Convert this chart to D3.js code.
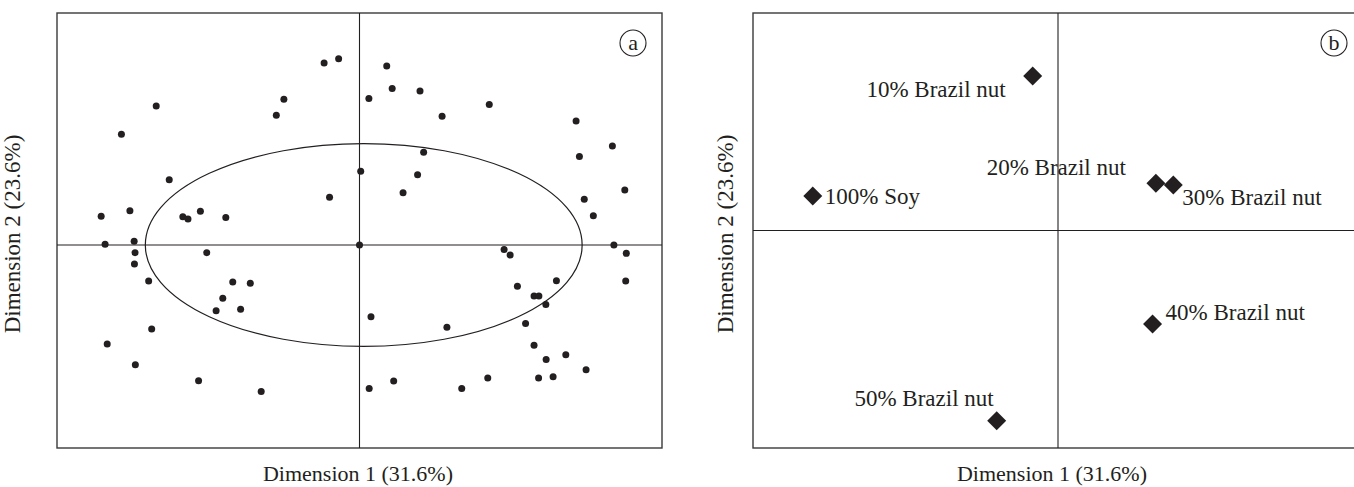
<!DOCTYPE html>
<html>
<head>
<meta charset="utf-8">
<script src="https://cdn.jsdelivr.net/npm/d3@7"></script>
<style>
  body { margin: 0; background: #fff; }
  text { font-family: 'Liberation Serif', 'Times New Roman', serif; fill: #231f20; }
</style>
</head>
<body>
<div id="chart"></div>
<script>
// panel a: individual scores
const scoresX = [
  -0.117, -0.069, -0.672, -0.787, -0.250, -0.275, -0.629, -0.099, -0.854, -0.759,
  -0.584, -0.567, -0.526, -0.442, -0.745, 0.090, 0.031, 0.108, 0.200, 0.273,
  0.429, 0.716, 0.836, 0.727, 0.212, 0.004, 0.192, 0.144, 0.877, 0.743,
  0.773, -0.841, -0.742, -0.744, -0.505, -0.697, -0.419, -0.361, -0.452, -0.474,
  -0.393, -0.687, -0.834, -0.741, -0.532, -0.325, 0.000, 0.478, 0.498, 0.841,
  0.882, 0.880, 0.651, 0.522, 0.577, 0.593, 0.616, 0.549, 0.038, 0.289,
  0.577, 0.617, 0.682, 0.749, 0.592, 0.640, 0.113, 0.032, 0.338, 0.424
]
const scoresY = [
  0.784, 0.803, 0.599, 0.477, 0.628, 0.559, 0.281, 0.206, 0.124, 0.148,
  0.122, 0.112, 0.145, 0.118, 0.016, 0.772, 0.632, 0.675, 0.664, 0.555,
  0.606, 0.534, 0.427, 0.381, 0.400, 0.318, 0.303, 0.225, 0.237, 0.197,
  0.126, 0.003, -0.033, -0.082, -0.033, -0.155, -0.159, -0.165, -0.230, -0.283,
  -0.277, -0.362, -0.427, -0.516, -0.585, -0.631, 0.000, -0.019, -0.043, 0.000,
  -0.036, -0.155, -0.154, -0.178, -0.220, -0.220, -0.256, -0.338, -0.309, -0.355,
  -0.432, -0.493, -0.473, -0.538, -0.573, -0.568, -0.586, -0.619, -0.619, -0.573
]
// confidence ellipse: centre and radii in data units
const ellipse = { cx: 0.014, cy: 0.0, rx: 0.722, ry: 0.437 }

// panel b: samples
const samples = ['10% Brazil nut', '100% Soy', '20% Brazil nut', '30% Brazil nut', '40% Brazil nut', '50% Brazil nut']
const sampleX = [-0.083, -0.804, 0.321, 0.378, 0.310, -0.201]
const sampleY = [0.710, 0.159, 0.217, 0.209, -0.430, -0.875]

const xTitle = 'Dimension 1 (31.6%)'
const yTitle = 'Dimension 2 (23.6%)'

// label placement next to each diamond
const labelPlace = [
  { dx: -27, dy: 21, anchor: 'end' },
  { dx: 12, dy: 8, anchor: 'start' },
  { dx: -30, dy: -8, anchor: 'end' },
  { dx: 9, dy: 20, anchor: 'start' },
  { dx: 13, dy: -4, anchor: 'start' },
  { dx: -3, dy: -15, anchor: 'end' }
]

const width = 1354
const height = 487
const titleSize = 22
const labelSize = 23

const svg = d3
  .select('#chart')
  .append('svg')
  .attr('width', width)
  .attr('height', height)

function panel(opts) {
  const x = d3.scaleLinear().domain(opts.xDomain).range(opts.xRange)
  const y = d3.scaleLinear().domain(opts.yDomain).range(opts.yRange)
  const g = svg.append('g')

  // frame
  g.append('rect')
    .attr('x', opts.xRange[0])
    .attr('y', opts.yRange[1])
    .attr('width', opts.xRange[1] - opts.xRange[0])
    .attr('height', opts.yRange[0] - opts.yRange[1])
    .attr('fill', 'none')
    .attr('stroke', '#3a3a3a')
    .attr('stroke-width', 1.4)

  // zero lines
  g.append('line')
    .attr('x1', x(0)).attr('x2', x(0))
    .attr('y1', opts.yRange[1]).attr('y2', opts.yRange[0])
    .attr('stroke', '#231f20').attr('stroke-width', 1.1)
  g.append('line')
    .attr('x1', opts.xRange[0]).attr('x2', opts.xRange[1])
    .attr('y1', y(0)).attr('y2', y(0))
    .attr('stroke', '#231f20').attr('stroke-width', 1.1)

  // panel letter
  const lg = g.append('g')
    .attr('transform', 'translate(' + opts.letterX + ',' + (opts.yRange[1] + 30) + ')')
  lg.append('circle').attr('r', 13).attr('fill', 'none')
    .attr('stroke', '#231f20').attr('stroke-width', 1.1)
  lg.append('text').attr('text-anchor', 'middle').attr('y', 7)
    .attr('font-size', 22).text(opts.letter)

  // axis titles
  g.append('text')
    .attr('x', opts.titleX).attr('y', 481)
    .attr('text-anchor', 'middle')
    .attr('font-size', titleSize)
    .text(xTitle)
  g.append('text')
    .attr('transform', 'translate(' + opts.yTitleX + ',234) rotate(-90)')
    .attr('text-anchor', 'middle')
    .attr('font-size', labelSize)
    .text(yTitle)

  return { g, x, y }
}

// panel a
const a = panel({
  xDomain: [-1, 1], xRange: [57, 662],
  yDomain: [-0.875, 1], yRange: [448, 13],
  letter: 'a', letterX: 633, titleX: 358, yTitleX: 20
})

a.g.append('ellipse')
  .attr('cx', a.x(ellipse.cx))
  .attr('cy', a.y(ellipse.cy))
  .attr('rx', a.x(ellipse.rx) - a.x(0))
  .attr('ry', a.y(0) - a.y(ellipse.ry))
  .attr('fill', 'none')
  .attr('stroke', '#231f20')
  .attr('stroke-width', 1.2)

a.g.selectAll('.score')
  .data(d3.range(scoresX.length))
  .enter()
  .append('circle')
  .attr('class', 'score')
  .attr('cx', i => a.x(scoresX[i]))
  .attr('cy', i => a.y(scoresY[i]))
  .attr('r', 3.5)
  .attr('fill', '#231f20')

// panel b
const b = panel({
  xDomain: [-1, 1], xRange: [753, 1363],
  yDomain: [-1, 1], yRange: [448, 13],
  letter: 'b', letterX: 1334, titleX: 1052, yTitleX: 733
})

const diamond = d3.symbol().type(d3.symbolSquare).size(180)

b.g.selectAll('.sample')
  .data(samples)
  .enter()
  .append('path')
  .attr('class', 'sample')
  .attr('d', diamond)
  .attr('transform', (d, i) => 'translate(' + b.x(sampleX[i]) + ',' + b.y(sampleY[i]) + ') rotate(45)')
  .attr('fill', '#231f20')

b.g.selectAll('.sample-label')
  .data(samples)
  .enter()
  .append('text')
  .attr('class', 'sample-label')
  .attr('x', (d, i) => b.x(sampleX[i]) + labelPlace[i].dx)
  .attr('y', (d, i) => b.y(sampleY[i]) + labelPlace[i].dy)
  .attr('text-anchor', (d, i) => labelPlace[i].anchor)
  .attr('font-size', labelSize)
  .text(d => d)
</script>
</body>
</html>
